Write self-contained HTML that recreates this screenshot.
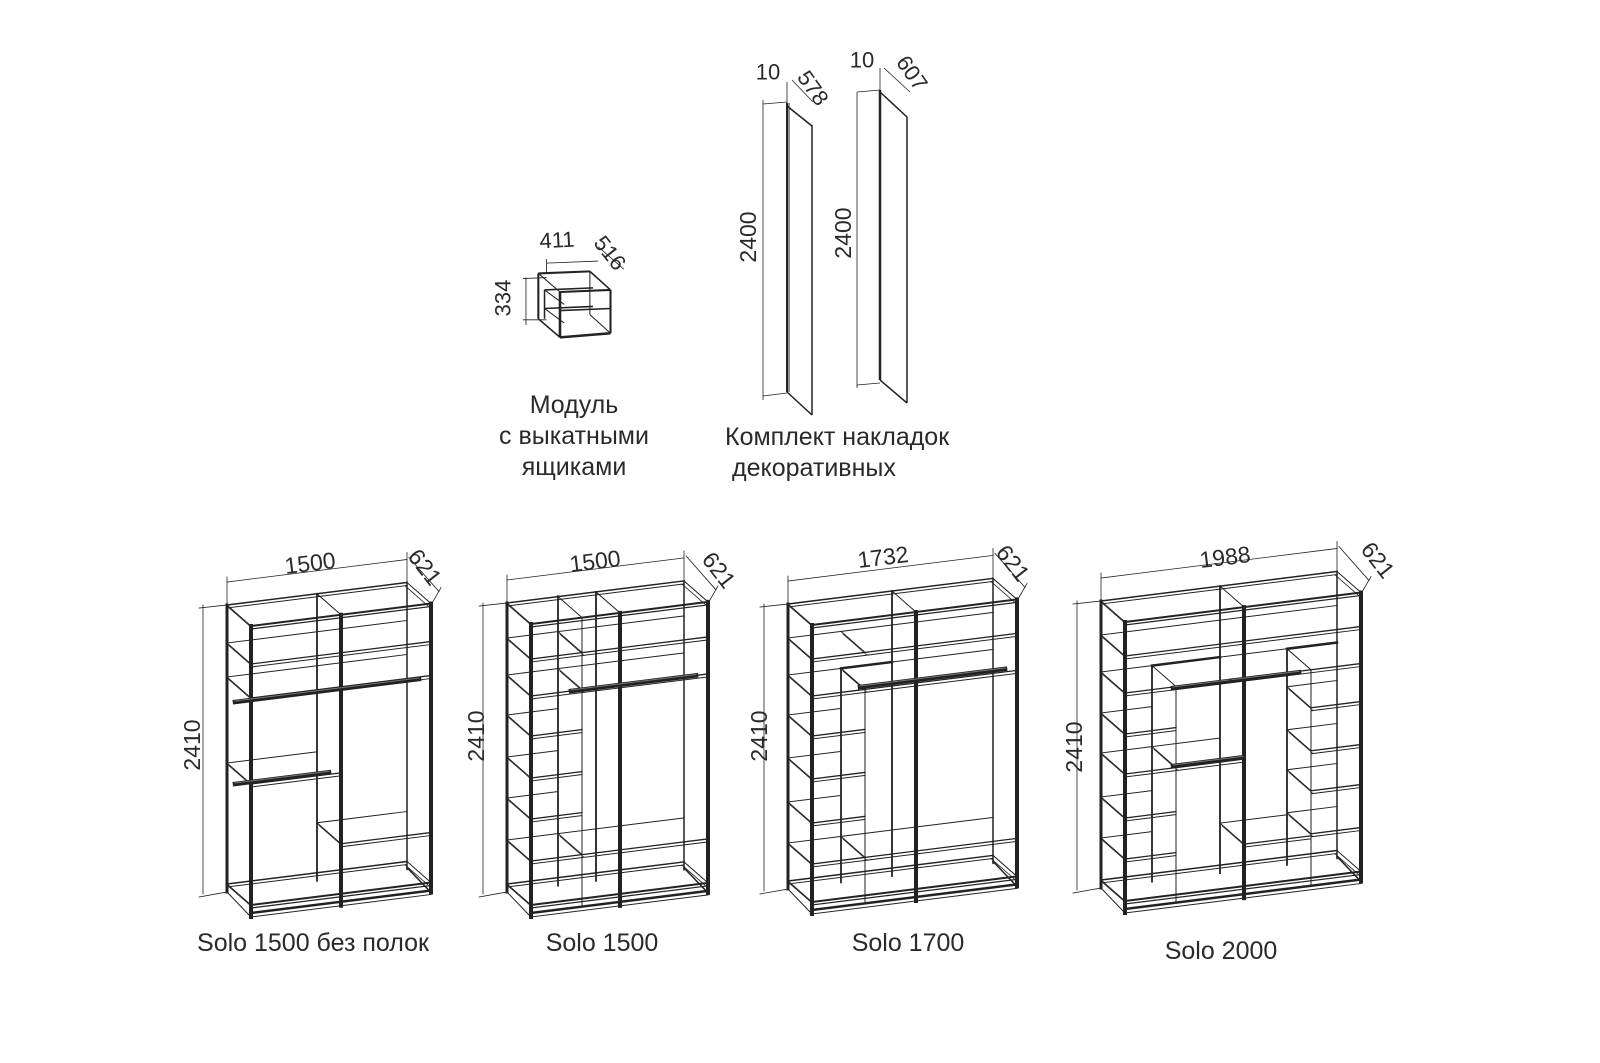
<!DOCTYPE html>
<html><head><meta charset="utf-8">
<style>
html,body{margin:0;padding:0;background:#fff;}
svg{display:block;}
text{font-family:"Liberation Sans","DejaVu Sans",sans-serif;fill:#2a2a2a;}
.c{text-anchor:middle;dominant-baseline:central;}
</style></head><body>
<svg id="s" width="1600" height="1063" viewBox="0 0 1600 1063" xmlns="http://www.w3.org/2000/svg">
<g id="draw" fill="none" stroke="#222" stroke-linecap="square"></g>

<g fill="none" stroke="#222" transform="translate(-5,-7) scale(1.031)">
<line x1="527" y1="272" x2="577" y2="270" stroke-width="2"/>
<line x1="527" y1="272" x2="527" y2="316" stroke-width="2"/>
<line x1="577" y1="270" x2="577" y2="312" stroke-width="1"/>
<line x1="527" y1="272" x2="548" y2="290" stroke-width="1"/>
<line x1="577" y1="270" x2="597" y2="288" stroke-width="1.5"/>
<line x1="548" y1="290" x2="597" y2="288" stroke-width="2"/>
<line x1="548" y1="290" x2="548" y2="334" stroke-width="2.5"/>
<line x1="597" y1="288" x2="597" y2="330" stroke-width="2"/>
<line x1="527" y1="316" x2="548" y2="334" stroke-width="1.5"/>
<line x1="548" y1="334" x2="597" y2="330" stroke-width="2.5"/>
<line x1="577" y1="312" x2="597" y2="330" stroke-width="1"/>
<line x1="533" y1="288" x2="580" y2="286" stroke-width="1.5"/>
<line x1="533" y1="306" x2="580" y2="304" stroke-width="1.5"/>
<line x1="548" y1="308" x2="597" y2="306" stroke-width="1.5"/>
<line x1="533" y1="288" x2="533" y2="316" stroke-width="1.5"/>
<line x1="533" y1="306" x2="552" y2="320" stroke-width="1"/>
<line x1="533" y1="288" x2="552" y2="302" stroke-width="1"/>
<line x1="535" y1="262" x2="585" y2="260" stroke-width="0.8"/>
<line x1="535" y1="258" x2="535" y2="272" stroke-width="0.8"/>
<line x1="585" y1="246" x2="610" y2="268" stroke-width="0.8"/>
<line x1="515" y1="276" x2="515" y2="322" stroke-width="0.8"/>
<line x1="512" y1="277" x2="535" y2="276" stroke-width="0.8"/>
<line x1="512" y1="317" x2="535" y2="317" stroke-width="0.8"/>
</g>
<text class="c" x="557" y="240" font-size="22" transform="rotate(-3 557 240)">411</text>
<text class="c" x="610" y="253" font-size="22" transform="rotate(52 610 253)">516</text>
<text class="c" x="503" y="298" font-size="22" transform="rotate(-90 503 298)">334</text>

<g fill="none" stroke="#222">
<line x1="787" y1="103" x2="787" y2="392" stroke-width="2"/>
<line x1="789" y1="103" x2="789" y2="392" stroke-width="1"/>
<line x1="812" y1="125" x2="812" y2="415" stroke-width="1.5"/>
<line x1="787" y1="106" x2="812" y2="126" stroke-width="1.5"/>
<line x1="787" y1="392" x2="812" y2="415" stroke-width="1.5"/>
<line x1="763" y1="100" x2="763" y2="400" stroke-width="0.8"/>
<line x1="763" y1="104" x2="787" y2="102" stroke-width="0.8"/>
<line x1="763" y1="396" x2="787" y2="393" stroke-width="0.8"/>
<line x1="787" y1="82" x2="787" y2="103" stroke-width="0.8"/>
<line x1="792" y1="80" x2="813" y2="102" stroke-width="0.8"/>
<line x1="880" y1="90" x2="880" y2="380" stroke-width="2.5"/>
<line x1="907" y1="117" x2="907" y2="403" stroke-width="1.5"/>
<line x1="880" y1="92" x2="907" y2="117" stroke-width="1.5"/>
<line x1="880" y1="380" x2="907" y2="403" stroke-width="1.5"/>
<line x1="857" y1="92" x2="857" y2="388" stroke-width="0.8"/>
<line x1="857" y1="92" x2="880" y2="90" stroke-width="0.8"/>
<line x1="857" y1="385" x2="880" y2="383" stroke-width="0.8"/>
<line x1="880" y1="68" x2="880" y2="90" stroke-width="0.8"/>
<line x1="884" y1="68" x2="910" y2="92" stroke-width="0.8"/>
</g>
<text class="c" x="768" y="72" font-size="22">10</text>
<text class="c" x="813" y="88" font-size="22" transform="rotate(55 813 88)">578</text>
<text class="c" x="862" y="60" font-size="22">10</text>
<text class="c" x="912" y="73" font-size="22" transform="rotate(55 912 73)">607</text>
<text class="c" x="748" y="237" font-size="23" transform="rotate(-90 748 237)">2400</text>
<text class="c" x="843" y="233" font-size="23" transform="rotate(-90 843 233)">2400</text>

<g font-size="25" text-anchor="middle">
<text x="574" y="413">Модуль</text>
<text x="574" y="444">с выкатными</text>
<text x="574" y="475">ящиками</text>
</g>
<text x="725" y="445" font-size="25">Комплект накладок</text>
<text x="732" y="476" font-size="25">декоративных</text>

<text x="313" y="951" font-size="25" text-anchor="middle">Solo 1500 без полок</text>
<text x="602" y="951" font-size="25" text-anchor="middle">Solo 1500</text>
<text x="908" y="951" font-size="25" text-anchor="middle">Solo 1700</text>
<text x="1221" y="959" font-size="25" text-anchor="middle">Solo 2000</text>

<text class="c" x="310" y="563" font-size="23" transform="rotate(-7 310 563)">1500</text>
<text class="c" x="595" y="561" font-size="23" transform="rotate(-7 595 561)">1500</text>
<text class="c" x="883" y="557" font-size="23" transform="rotate(-7 883 557)">1732</text>
<text class="c" x="1225" y="557" font-size="23" transform="rotate(-7 1225 557)">1988</text>
<text class="c" x="425" y="567" font-size="23" transform="rotate(52 425 567)">621</text>
<text class="c" x="719" y="570" font-size="23" transform="rotate(52 719 570)">621</text>
<text class="c" x="1013" y="563" font-size="23" transform="rotate(52 1013 563)">621</text>
<text class="c" x="1378" y="560" font-size="23" transform="rotate(52 1378 560)">621</text>
<text class="c" x="192" y="745" font-size="23" transform="rotate(-90 192 745)">2410</text>
<text class="c" x="476" y="736" font-size="23" transform="rotate(-90 476 736)">2410</text>
<text class="c" x="759" y="736" font-size="23" transform="rotate(-90 759 736)">2410</text>
<text class="c" x="1074" y="747" font-size="23" transform="rotate(-90 1074 747)">2410</text>

<script>
(function(){
var g=document.getElementById('draw');
function L(a,b,w,c){var e=document.createElementNS('http://www.w3.org/2000/svg','line');
e.setAttribute('x1',a[0].toFixed(1));e.setAttribute('y1',a[1].toFixed(1));
e.setAttribute('x2',b[0].toFixed(1));e.setAttribute('y2',b[1].toFixed(1));
e.setAttribute('stroke-width',w);if(c)e.setAttribute('stroke',c);g.appendChild(e);}
function W(o){
 var s=0.125,dx=24,dy=21;
 function P(x,h,t){return [o.bx+x+t*dx,o.by-s*x+h+t*dy];}
 var Wd=o.W,H=o.H;
 [0,H].forEach(function(h,i){
  var hh=i?h-8:h;
  L(P(0,hh,0),P(Wd,hh,0),1.5);L(P(0,hh+3,0),P(Wd,hh+3,0),1);
  L(P(0,hh,1),P(Wd,hh,1),2);L(P(0,hh+3,1),P(Wd,hh+3,1),1.2);
  L(P(0,hh,0),P(0,hh,1),1);L(P(Wd,hh,0),P(Wd,hh,1),1);
  L(P(2,hh+3,0),P(2,hh+3,1),0.8);L(P(Wd-2,hh+3,0),P(Wd-2,hh+3,1),0.8);
 });
 L(P(0,H,1),P(Wd,H,1),2.5);L(P(0,H+4,1),P(Wd,H+4,1),1);
 L(P(0,H,0),P(0,H+4,1),1);L(P(Wd,H-2,0),P(Wd,H+2,1),1.5);
 L(P(0,0,0),P(0,H,0),3);
 L(P(Wd,0,0),P(Wd,H,0),1.5);
 L(P(0,0,1),P(0,H+4,1),4);
 L(P(Wd,0,1),P(Wd,H+2,1),4);
 o.div.forEach(function(x){L(P(x,0,0),P(x,H,0),1.8);L(P(x,0,1),P(x,H+4,1),4);L(P(x,0,0),P(x,0,1),1);});
 (o.vert||[]).forEach(function(v){L(P(v[0],v[1],0),P(v[0],H,0),1.8);L(P(v[0],v[1],1),P(v[0],H,1),1);L(P(v[0],v[1],0),P(v[0],v[1],1),1);L(P(v[0],v[1],0),P(v[2],v[1],0),2.5);});
 o.sh.forEach(function(q){q[2].forEach(function(h){
  L(P(q[0],h,0),P(q[1],h,0),1);L(P(q[0],h,1),P(q[1],h,1),1.3);L(P(q[0],h+3,1),P(q[1],h+3,1),1);
  L(P(q[0],h,0),P(q[0],h,1),1);L(P(q[0]+2,h+3,0),P(q[0]+2,h+3,1),0.7);
 });});
 (o.rail||[]).forEach(function(r){L(P(r[0],r[2],0.5),P(r[1],r[2],0.5),4.5);L(P(r[0],r[2]-1,0.5),P(r[1],r[2]-1,0.5),1,'#777');});
 var t0=P(0,0,0),t1=P(Wd,0,0);
 L([t0[0],t0[1]-23],[t1[0],t1[1]-23],0.8);
 L([t0[0],t0[1]-28],t0,0.8);L([t1[0],t1[1]-30],t1,0.8);
 var f1=P(Wd,0,1);
 L([t1[0]+2,t1[1]-25],[f1[0]+8,f1[1]-12],0.8);
 L([f1[0]+10,f1[1]-16],[f1[0]+2,f1[1]-2],0.8);
 var b0=P(0,H,0);
 L([t0[0]-24,t0[1]],[b0[0]-24,b0[1]+2],0.8);
 L([t0[0]-28,t0[1]+3],t0,0.8);L([b0[0]-28,b0[1]+5],b0,0.8);
}
W({bx:227,by:605,W:180,H:287,div:[90],
 sh:[[0,180,[38,72]],[0,90,[158]],[90,180,[229]]],
 rail:[[-4,180,86],[-4,90,168]]});
W({bx:507,by:603,W:177,H:289,div:[89],vert:[[51,0,51]],
 sh:[[0,51,[35,72,112,154,195,237]],[51,177,[35,72]],[51,177,[237]]],
 rail:[[52,177,84]]});
W({bx:788,by:604,W:205,H:285,div:[104],vert:[[53,71,104]],
 sh:[[0,53,[34,71,111,154,198,239]],[53,205,[34,71]],[53,205,[239]]],
 rail:[[60,205,80]]});
W({bx:1101,by:601,W:236,H:287,div:[119],vert:[[51,71,119],[186,71,236]],
 sh:[[0,236,[34,71]],[0,51,[112,152,196,237]],[186,236,[109,152,192,235]],[51,119,[152]],[119,186,[237]]],
 rail:[[60,119,84],[119,186,84],[60,130,162]]});
})();
</script>
</svg>
</body></html>
